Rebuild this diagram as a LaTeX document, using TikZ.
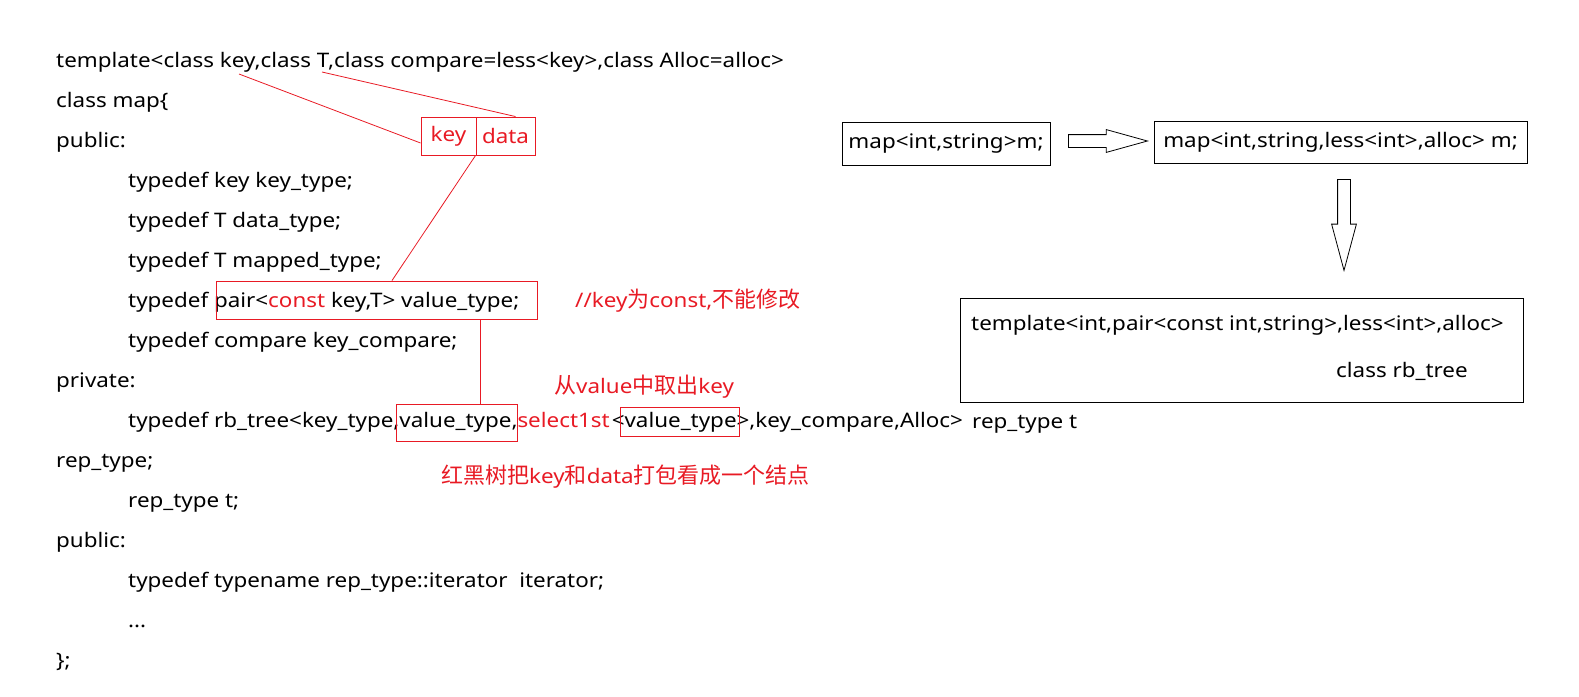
\documentclass[tikz,border=0pt]{standalone}
\usepackage{fontspec}
\setmainfont{Noto Sans}[FakeStretch=1.12]
\newfontfamily\cjk{Noto Sans CJK SC}
\usetikzlibrary{shapes.arrows}
\definecolor{hlred}{RGB}{232,26,36}
\newcommand{\zh}[1]{{\cjk\fontsize{22}{23}\selectfont #1}}
\begin{document}
\begin{tikzpicture}[
    x=1pt, y=-1pt,
    code/.style={anchor=base west, inner sep=0pt, font=\fontsize{20}{23}\selectfont},
    note/.style={code, text=hlred},
    box/.style={draw, line width=0.9pt, inner sep=0pt, font=\fontsize{20}{23}\selectfont},
    redbox/.style={draw=hlred, line width=0.9pt, inner sep=0pt},
    link/.style={draw=hlred, line width=0.8pt},
    hollow/.style={single arrow, draw, line width=0.8pt, inner xsep=0pt, inner ysep=6pt, single arrow head extend=5pt, anchor=tail},
]
\useasboundingbox (0,0) rectangle (1579,696);
% class map source
\node[code] (tpl) at (56,67) {template<class key,class T,class compare=less<key>,class Alloc=alloc>};
\node[code] (cls) at (56,107) {class map\{};
\node[code] (pub) at (56,147) {public:};
\node[code] (keyt) at (128,187) {typedef key key\_type;};
\node[code] (datat) at (128,227) {typedef T data\_type;};
\node[code] (mapt) at (128,267) {typedef T mapped\_type;};
\node[code] (valt) at (128,307) {typedef pair<\textcolor{hlred}{const} key,T> value\_type;};
\node[code] (cmpt) at (128,347) {typedef compare key\_compare;};
\node[code] (priv) at (56,387) {private:};
\node[code] (rbt) at (128,427) {typedef rb\_tree<key\_type,value\_type,\textcolor{hlred}{select1st}\hspace{2pt}<value\_type>,key\_compare,Alloc>};
\node[code] (rept) at (56,467) {rep\_type;};
\node[code] (repv) at (128,507) {rep\_type t;};
\node[code] (pub2) at (56,547) {public:};
\node[code] (itt) at (128,587) {typedef typename rep\_type::iterator~~iterator;};
\node[code] (dots) at (128,627) {...};
\node[code] (close) at (56,667) {\};};
\node[code] (reptail) at (972,428) {rep\_type t};
% key / data pair
\node[redbox, minimum width=55pt, minimum height=38pt, text=hlred, font=\fontsize{20}{23}\selectfont] (keycell) at (448.5,136) {key};
\node[redbox, minimum width=59pt, minimum height=38pt, text=hlred, font=\fontsize{20}{23}\selectfont] (datacell) at (505.5,136) {data};
\coordinate (keyfoot) at (239,74);
\coordinate (tfoot) at (322,72);
\draw[link] (keyfoot) -- ([yshift=-7pt]keycell.west);
\draw[link] (tfoot) -- ([xshift=10pt]datacell.north);
% highlighted types
\node[redbox, minimum width=321pt, minimum height=38pt] (pairbox) at (376.5,300) {};
\node[redbox, minimum width=121pt, minimum height=37pt] (vtbox) at (456.5,422.5) {};
\node[redbox, minimum width=119pt, minimum height=29pt] (selbox) at (679.5,421.5) {};
\draw[link] (datacell.south west) -- ([xshift=15.5pt]pairbox.north);
\draw[link] ([xshift=103.5pt]pairbox.south) coordinate (drop) -- (drop |- vtbox.north);
\node[note] (constnote) at (575,307) {//key\zh{为}const,\zh{不能修改}};
\node[note] (selnote) at (554,393) {\zh{从}value\zh{中取出}key};
\node[note] (treenote) at (441,483) {\zh{红黑树把}key\zh{和}data\zh{打包看成一个结点}};
% instantiation
\node[box, minimum width=208pt, minimum height=43pt] (mapuse) at (946,143.5) {map<int,string>m;};
\node[box, minimum width=373pt, minimum height=42pt] (mapfull) at (1340.5,142) {map<int,string,less<int>,alloc> m;};
\node[hollow, minimum height=79pt, single arrow tip angle=31] (toright) at (1068,141) {};
\node[hollow, minimum height=91pt, single arrow head extend=6pt, single arrow tip angle=30, rotate=-90] (todown) at (1344,179) {};
\node[box, minimum width=563pt, minimum height=104pt] (rbbox) at (1241.5,350) {};
\node[code] (rbtpl) at (971,330) {template<int,pair<const int,string>,less<int>,alloc>};
\node[code] (rbcls) at (1336,377) {class rb\_tree};
\end{tikzpicture}
\end{document}
